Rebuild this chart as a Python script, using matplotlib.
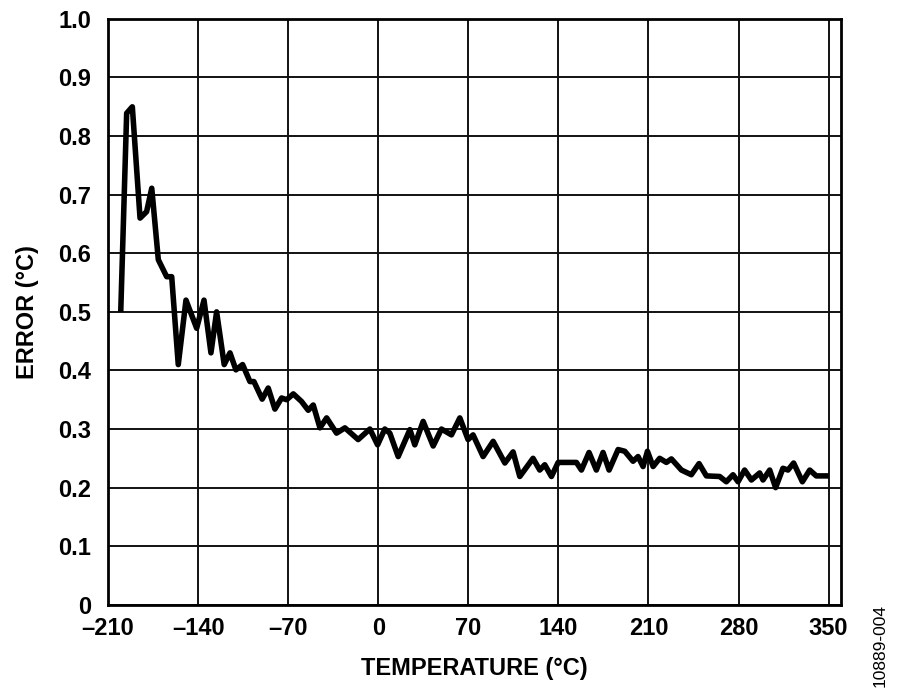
import matplotlib
matplotlib.use("Agg")
import matplotlib.pyplot as plt

# %% Data
temp_c = [-200.1, -195.5, -191.1, -185.1, -180.0, -176.0, -170.9, -164.4, -160.5,
          -155.4, -149.4, -141.1, -135.4, -130.0, -125.6, -119.7, -115.2, -110.6,
          -105.4, -99.7, -96.6, -90.2, -85.5, -80.3, -75.1, -71.2, -66.0, -59.6,
          -54.4, -50.5, -45.3, -40.1, -32.4, -25.9, -15.6, -6.5, -0.5, 5.1, 9.0,
          15.5, 24.6, 28.4, 34.9, 42.7, 49.1, 56.9, 63.4, 69.8, 73.7, 81.5, 89.3,
          98.4, 104.8, 110.0, 120.3, 125.5, 129.4, 134.6, 139.8, 154.0, 157.9,
          163.8, 169.5, 174.7, 179.4, 186.4, 191.6, 198.0, 201.9, 205.8, 209.2,
          213.6, 218.7, 223.9, 227.8, 235.6, 243.3, 249.3, 255.0, 265.3, 270.5,
          275.7, 279.6, 284.7, 290.0, 296.4, 299.0, 304.2, 308.8, 314.5, 318.4,
          322.8, 329.6, 335.3, 340.4, 350.2]
error_c = [0.50, 0.839, 0.850, 0.660, 0.671, 0.711, 0.589, 0.560, 0.560,
           0.410, 0.520, 0.472, 0.520, 0.430, 0.500, 0.410, 0.430, 0.401,
           0.410, 0.381, 0.381, 0.351, 0.370, 0.334, 0.353, 0.350, 0.360, 0.347,
           0.332, 0.341, 0.302, 0.319, 0.293, 0.302, 0.282, 0.300, 0.273, 0.300, 0.293,
           0.253, 0.299, 0.273, 0.313, 0.271, 0.300, 0.290, 0.319, 0.282, 0.290, 0.253, 0.279,
           0.242, 0.261, 0.219, 0.250, 0.230, 0.239, 0.219, 0.243, 0.243, 0.230,
           0.260, 0.230, 0.260, 0.230, 0.265, 0.262, 0.245, 0.253, 0.236, 0.262,
           0.236, 0.250, 0.243, 0.249, 0.230, 0.222, 0.241, 0.220, 0.219, 0.210,
           0.222, 0.210, 0.230, 0.213, 0.225, 0.213, 0.230, 0.200, 0.233, 0.230,
           0.242, 0.210, 0.230, 0.220, 0.220]

x_ticks = [-210, -140, -70, 0, 70, 140, 210, 280, 350]
x_tick_labels = ['\u2013210', '\u2013140', '\u201370', '0', '70', '140', '210', '280', '350']
y_ticks = [0, 0.1, 0.2, 0.3, 0.4, 0.5, 0.6, 0.7, 0.8, 0.9, 1.0]
y_tick_labels = ['0', '0.1', '0.2', '0.3', '0.4', '0.5', '0.6', '0.7', '0.8', '0.9', '1.0']

# %% Plot
plt.rcParams['font.family'] = ['Liberation Sans', 'DejaVu Sans']

fig = plt.figure(figsize=(9, 7), dpi=100)
ax = fig.add_axes([0.12, 0.136, 0.814, 0.837])

ax.plot(temp_c, error_c, color='black', linewidth=4.0,
        solid_joinstyle='round', solid_capstyle='butt', zorder=3)

ax.set_xlim(-210, 359.3)
ax.set_ylim(0, 1.0)
ax.set_xticks(x_ticks)
ax.set_xticklabels(x_tick_labels, fontsize=17, fontweight='bold')
ax.set_yticks(y_ticks)
ax.set_yticklabels(y_tick_labels, fontsize=17, fontweight='bold')
ax.tick_params(length=0, pad=12)
ax.tick_params(axis='x', pad=9)

ax.grid(True, color='#111111', linewidth=1.4)
ax.set_axisbelow(True)
for sp in ax.spines.values():
    sp.set_linewidth(2.0)
    sp.set_color('black')

ax.set_xlabel('TEMPERATURE (°C)', fontsize=17, fontweight='bold', labelpad=12)
ax.set_ylabel('ERROR (°C)', fontsize=17, fontweight='bold', labelpad=14)

fig.text(0.978, 0.137, '10889-004', rotation=90, fontsize=12.5,
         ha='center', va='top')

plt.savefig('out.png', dpi=100)
